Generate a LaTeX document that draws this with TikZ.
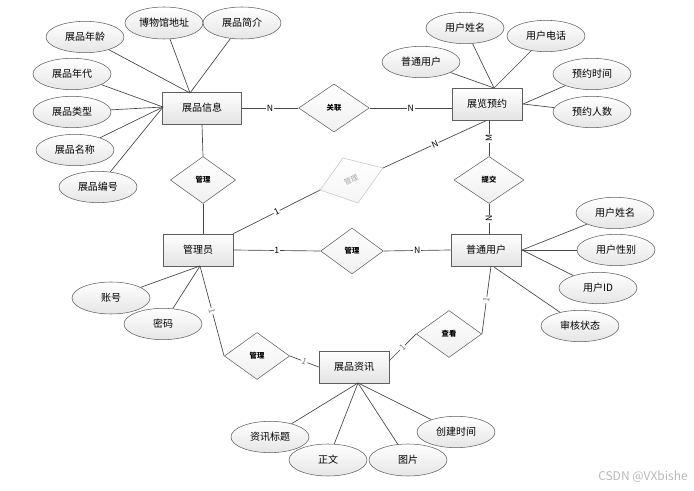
\documentclass[tikz,border=0pt]{standalone}
\usepackage{fontspec}
\setmainfont{Noto Sans CJK SC}
\usetikzlibrary{shapes.geometric,shadows}
\definecolor{edgec}{RGB}{70,70,70}
\definecolor{bordc}{RGB}{95,95,95}
\begin{document}
\begin{tikzpicture}[x=0.75pt,y=-0.75pt,
  ent/.style={draw=bordc, top color=white, bottom color=gray!22, minimum width=52.5pt, minimum height=24pt, inner sep=0pt, font=\fontsize{7.5}{8}\selectfont, drop shadow={opacity=0.2,shadow xshift=0.8pt,shadow yshift=-0.8pt}},
  attr/.style={ellipse, draw=bordc, top color=white, bottom color=gray!20, minimum width=58.5pt, minimum height=23.5pt, inner sep=0pt, font=\fontsize{7.5}{8}\selectfont},
  rel/.style={diamond, draw=bordc, top color=white, bottom color=gray!12, minimum width=49pt, minimum height=35.25pt, inner sep=0pt, font=\fontsize{5.5}{6}\selectfont\bfseries},
  conn/.style={draw=edgec, line width=0.5pt},
  lab/.style={fill=white, inner sep=0.6pt, font=\fontsize{6.5}{7}\selectfont}
]
\useasboundingbox (0,0) rectangle (694,491);

% entities
\node[ent, minimum width=59pt] (zpxx) at (202,108) {展品信息};
\node[ent] (zlyy) at (487,104) {展览预约};
\node[ent] (gly) at (198,250) {管理员};
\node[ent] (ptyh) at (486,250) {普通用户};
\node[ent] (zpzx) at (354,367) {展品资讯};

% relations
\node[rel, minimum width=53pt, minimum height=36pt] (rgl) at (334,108) {关联};
\node[rel] (rgl1) at (203,180) {管理};
\node[rel, minimum width=52.5pt] (rtj) at (489,180) {提交};
\node[rel, minimum width=47pt, minimum height=34.5pt] (rgl2) at (352,251) {管理};
\node[rel] (rgl3) at (257,356) {管理};
\node[rel] (rck) at (449,334) {查看};

% gray tilted relation
\coordinate (gA) at (320,190);
\coordinate (gB) at (343,158);
\coordinate (gC) at (383,168);
\coordinate (gD) at (358,203);
\draw[gray!45, top color=white, bottom color=gray!8] (gA) -- (gB) -- (gC) -- (gD) -- cycle;
\node[gray!70, rotate=25, font=\fontsize{5.5}{6}\selectfont] (gt) at (351,180) {管理};

% attachment points
\coordinate (zpT) at (190,93);
\coordinate (zpL) at (163,107);
\coordinate (zlT) at (494,88);
\coordinate (zlR) at (523,104);
\coordinate (ptR) at (522,250);
\coordinate (ptB) at (494,267);
\coordinate (ptB2) at (491,266);
\coordinate (glyB) at (200,266);
\coordinate (zxB) at (358,383);
\coordinate (zxR) at (389,361);

% attributes
\node[attr] (a1) at (85,37) {展品年龄};
\node[attr, minimum height=24pt] (a2) at (164,23) {博物馆地址};
\node[attr, minimum height=24pt] (a3) at (242,23) {展品简介};
\node[attr] (a4) at (72,74) {展品年代};
\node[attr] (a5) at (72,112) {展品类型};
\node[attr] (a6) at (75,150) {展品名称};
\node[attr] (a7) at (98,187) {展品编号};

\node[attr] (b1) at (465,28) {用户姓名};
\node[attr] (b2) at (546,36) {用户电话};
\node[attr] (b3) at (421,62) {普通用户};
\node[attr] (b4) at (592,74) {预约时间};
\node[attr] (b5) at (592,112) {预约人数};

\node[attr] (c1) at (615,213) {用户姓名};
\node[attr] (c2) at (616,250) {用户性别};
\node[attr] (c3) at (598,288) {用户ID};
\node[attr] (c4) at (580,326) {审核状态};

\node[attr, minimum height=24pt] (d1) at (111,298) {账号};
\node[attr] (d2) at (163,324) {密码};

\node[attr] (e1) at (270,437) {资讯标题};
\node[attr, minimum height=24pt] (e2) at (328,460) {正文};
\node[attr, minimum height=24pt] (e3) at (408,460) {图片};
\node[attr] (e4) at (456,432) {创建时间};

% attribute connectors
\foreach \a in {a1,a2,a3} \draw[conn] (\a) -- (zpT);
\foreach \a in {a4,a5,a6,a7} \draw[conn] (\a) -- (zpL);
\foreach \a in {b1,b2,b3} \draw[conn] (\a) -- (zlT);
\foreach \a in {b4,b5} \draw[conn] (\a) -- (zlR);
\foreach \a in {c1,c2,c3} \draw[conn] (\a) -- (ptR);
\draw[conn] (c4) -- (ptB);
\foreach \a in {d1,d2} \draw[conn] (\a) -- (glyB);
\foreach \a in {e1,e2,e3,e4} \draw[conn] (\a) -- (zxB);

% relation connectors
\draw[conn] (zpxx.east) -- node[lab] {N} (rgl.west);
\draw[conn] (rgl.east) -- node[lab] {N} (rgl.east -| zlyy.west);
\draw[conn] (zpxx.south) -- (rgl1.north);
\draw[conn] (rgl1.south) -- (rgl1.south |- gly.north);
\draw[conn] (rtj.north |- zlyy.south) -- node[lab, rotate=90] {M} (rtj.north);
\draw[conn] (rtj.south) -- node[lab, rotate=90] {N} (rtj.south |- ptyh.north);
\draw[conn] (gly.east) -- node[lab] {1} (rgl2.west);
\draw[conn] (rgl2.east) -- node[lab] {N} (ptyh.west);
\draw[conn] (gly.north east) -- node[lab, sloped] {1} (gA);
\draw[conn] (gC) -- node[lab, sloped] {N} (zlyy.south);
\draw[conn] (glyB) -- node[lab, sloped, text=gray] {1} (rgl3.west);
\draw[conn] (rgl3.east) -- node[lab, sloped, text=gray] {1} (zpzx.west);
\draw[conn] (rck.west) -- node[lab, sloped, text=gray] {1} (zxR);
\draw[conn] (rck.east) -- node[lab, sloped, text=gray] {1} (ptB2);

% watermark
\node[gray!55, font=\fontsize{9}{10}\selectfont] (wm) at (643,477) {CSDN @VXbishe};
\end{tikzpicture}
\end{document}
